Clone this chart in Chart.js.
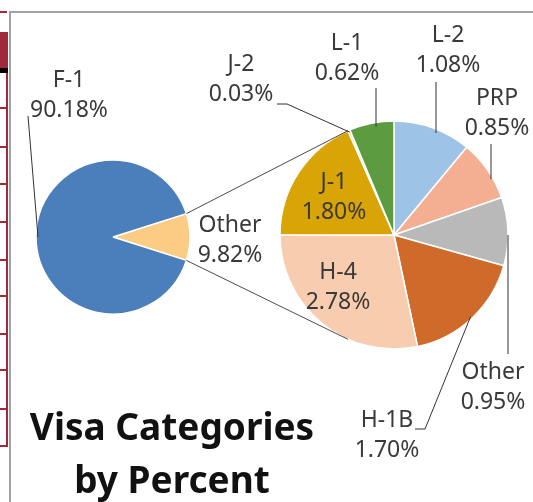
<!DOCTYPE html>
<html>
<head>
<meta charset="utf-8">
<script src="https://cdn.jsdelivr.net/npm/chart.js@4.4.0/dist/chart.umd.min.js"></script>
<style>
  html, body { margin: 0; padding: 0; background: #fff; }
  #wrap { position: relative; width: 533px; height: 502px; overflow: hidden; }
  #wrap canvas { position: absolute; left: 0; top: 0; }
  .frame { position: absolute; left: 9px; top: 11px; width: 600px; height: 600px;
           border-left: 2px solid #a3a3a3; border-top: 2px solid #a3a3a3; }
  .side { position: absolute; left: 0; background: #a2283b; }
</style>
</head>
<body>
<div id="wrap">
  <div class="frame"></div>
  <div id="side"></div>
  <canvas id="mainPie" width="533" height="502"></canvas>
  <canvas id="detailPie" width="533" height="502"></canvas>
</div>
<script>
// first pie: F-1 vs everything else
const mainLabels = ['Other', 'F-1'];
const mainValues = [9.82, 90.18];
const mainColors = ['#FCCB84', '#4B7FBC'];

// second pie: breakdown of "Other"
const detailLabels = ['L-2', 'PRP', 'Other', 'H-1B', 'H-4', 'J-1', 'J-2', 'L-1'];
const detailValues = [1.08, 0.85, 0.95, 1.70, 2.78, 1.80, 0.03, 0.62];
const detailColors = ['#9DC3E6', '#F4AE91', '#B9B9B9', '#D06A2A', '#F8CDAF', '#D9A406', '#FFD966', '#5C9B3F'];

const titleLines = ['Visa Categories', 'by Percent'];

// label placement (centre x, first baseline) and leader routes
const mainSpots = [
  { x: 230, y: 232 },
  { x: 69, y: 87, path: [[28, 116]] }
];
const detailSpots = [
  { x: 448, y: 42, lx: 436, ly: 82 },
  { x: 497, y: 105, lx: 491, ly: 144 },
  { x: 493, y: 379, lx: 508, ly: 354 },
  { x: 387, y: 427, path: [[425, 429], [415, 429]] },
  { x: 338, y: 279 },
  { x: 334, y: 189 },
  { x: 241, y: 71, path: [[287, 104], [277, 104]] },
  { x: 347, y: 50, lx: 376, ly: 88 }
];

// page decoration on the left (table edge of the host page)
const side = document.getElementById('side');
function bar(top, h, w) {
  const d = document.createElement('div');
  d.className = 'side';
  d.style.top = top + 'px';
  d.style.height = h + 'px';
  d.style.width = w + 'px';
  side.appendChild(d);
}
bar(11, 2, 7);
bar(32, 37, 8);
[107, 146, 183, 221, 259, 295, 333, 369, 408, 445].forEach(y => bar(y, 2, 7));
const vline = document.createElement('div');
vline.className = 'side';
Object.assign(vline.style, { top: '72px', left: '6px', width: '2px', height: '375px' });
side.appendChild(vline);
const blk = document.createElement('div');
Object.assign(blk.style, { position: 'absolute', top: '68px', left: '0', width: '8px', height: '5px', background: '#000' });
side.appendChild(blk);

const BW = 1.5;

const mainChart = new Chart(document.getElementById('mainPie'), {
  type: 'pie',
  data: {
    labels: mainLabels,
    datasets: [{ data: mainValues, backgroundColor: mainColors, borderColor: '#fff', borderWidth: BW, hoverOffset: 0 }]
  },
  options: {
    responsive: false,
    animation: false,
    events: [],
    rotation: 90 - mainValues[0] * 1.8, // centre the "Other" wedge on the right
    layout: { padding: { left: 35.25, right: 342.25, top: 159.25, bottom: 187.25 } },
    plugins: { legend: { display: false }, tooltip: { enabled: false } }
  }
});

function textBlock(ctx, spot, lines) {
  ctx.fillText(lines[0], spot.x, spot.y);
  ctx.fillText(lines[1], spot.x, spot.y + 30);
}

function drawLeader(ctx, arc, spot) {
  const p = arc.getProps(['x', 'y', 'startAngle', 'endAngle', 'outerRadius'], true);
  ctx.beginPath();
  if (spot.lx !== undefined) {
    const dx = spot.lx - p.x;
    const dy = Math.max(Math.sqrt(Math.max(p.outerRadius * p.outerRadius - dx * dx, 0)) - 4, 0);
    const ey = spot.ly < p.y ? p.y - dy : p.y + dy;
    ctx.moveTo(spot.lx, ey);
    ctx.lineTo(spot.lx, spot.ly);
  } else if (spot.path) {
    const mid = (p.startAngle + p.endAngle) / 2;
    ctx.moveTo(p.x + Math.cos(mid) * (p.outerRadius - 2), p.y + Math.sin(mid) * (p.outerRadius - 2));
    spot.path.forEach(q => ctx.lineTo(q[0], q[1]));
  } else {
    return;
  }
  ctx.stroke();
}

const overlay = {
  id: 'overlay',
  afterDraw(chart) {
    const ctx = chart.ctx;
    const mainArcs = mainChart.getDatasetMeta(0).data;
    const detailArcs = chart.getDatasetMeta(0).data;
    ctx.save();

    // connector lines between the two pies
    const o = mainArcs[0].getProps(['x', 'y', 'startAngle', 'endAngle', 'outerRadius'], true);
    const j = detailArcs[6].getProps(['x', 'y', 'startAngle', 'outerRadius'], true);
    ctx.strokeStyle = '#4a4a4a';
    ctx.lineWidth = 1;
    ctx.beginPath();
    ctx.moveTo(o.x + Math.cos(o.startAngle) * o.outerRadius, o.y + Math.sin(o.startAngle) * o.outerRadius);
    ctx.lineTo(j.x + Math.cos(j.startAngle) * j.outerRadius, j.y + Math.sin(j.startAngle) * j.outerRadius);
    ctx.moveTo(o.x + Math.cos(o.endAngle) * o.outerRadius, o.y + Math.sin(o.endAngle) * o.outerRadius);
    ctx.lineTo(j.x + Math.cos(-j.startAngle) * j.outerRadius, j.y + Math.sin(-j.startAngle) * j.outerRadius);
    ctx.stroke();

    // leaders
    ctx.strokeStyle = '#333';
    mainArcs.forEach((a, i) => drawLeader(ctx, a, mainSpots[i]));
    detailArcs.forEach((a, i) => drawLeader(ctx, a, detailSpots[i]));

    // data labels
    ctx.fillStyle = '#3a3a3a';
    ctx.font = '23px "Noto Sans"';
    ctx.textAlign = 'center';
    ctx.textBaseline = 'alphabetic';
    mainLabels.forEach((l, i) => textBlock(ctx, mainSpots[i], [l, mainValues[i].toFixed(2) + '%']));
    detailLabels.forEach((l, i) => textBlock(ctx, detailSpots[i], [l, detailValues[i].toFixed(2) + '%']));

    // title
    ctx.fillStyle = '#111';
    ctx.font = 'bold 37px "Noto Sans"';
    ctx.fillText(titleLines[0], 172, 440);
    ctx.fillText(titleLines[1], 172, 493);
    ctx.restore();
  }
};

new Chart(document.getElementById('detailPie'), {
  type: 'pie',
  data: {
    labels: detailLabels,
    datasets: [{ data: detailValues, backgroundColor: detailColors, borderColor: '#fff', borderWidth: BW, hoverOffset: 0 }]
  },
  options: {
    responsive: false,
    animation: false,
    events: [],
    rotation: 0,
    layout: { padding: { left: 279.25, right: 24.25, top: 120.25, bottom: 152.25 } },
    plugins: { legend: { display: false }, tooltip: { enabled: false } }
  },
  plugins: [overlay]
});
</script>
</body>
</html>
